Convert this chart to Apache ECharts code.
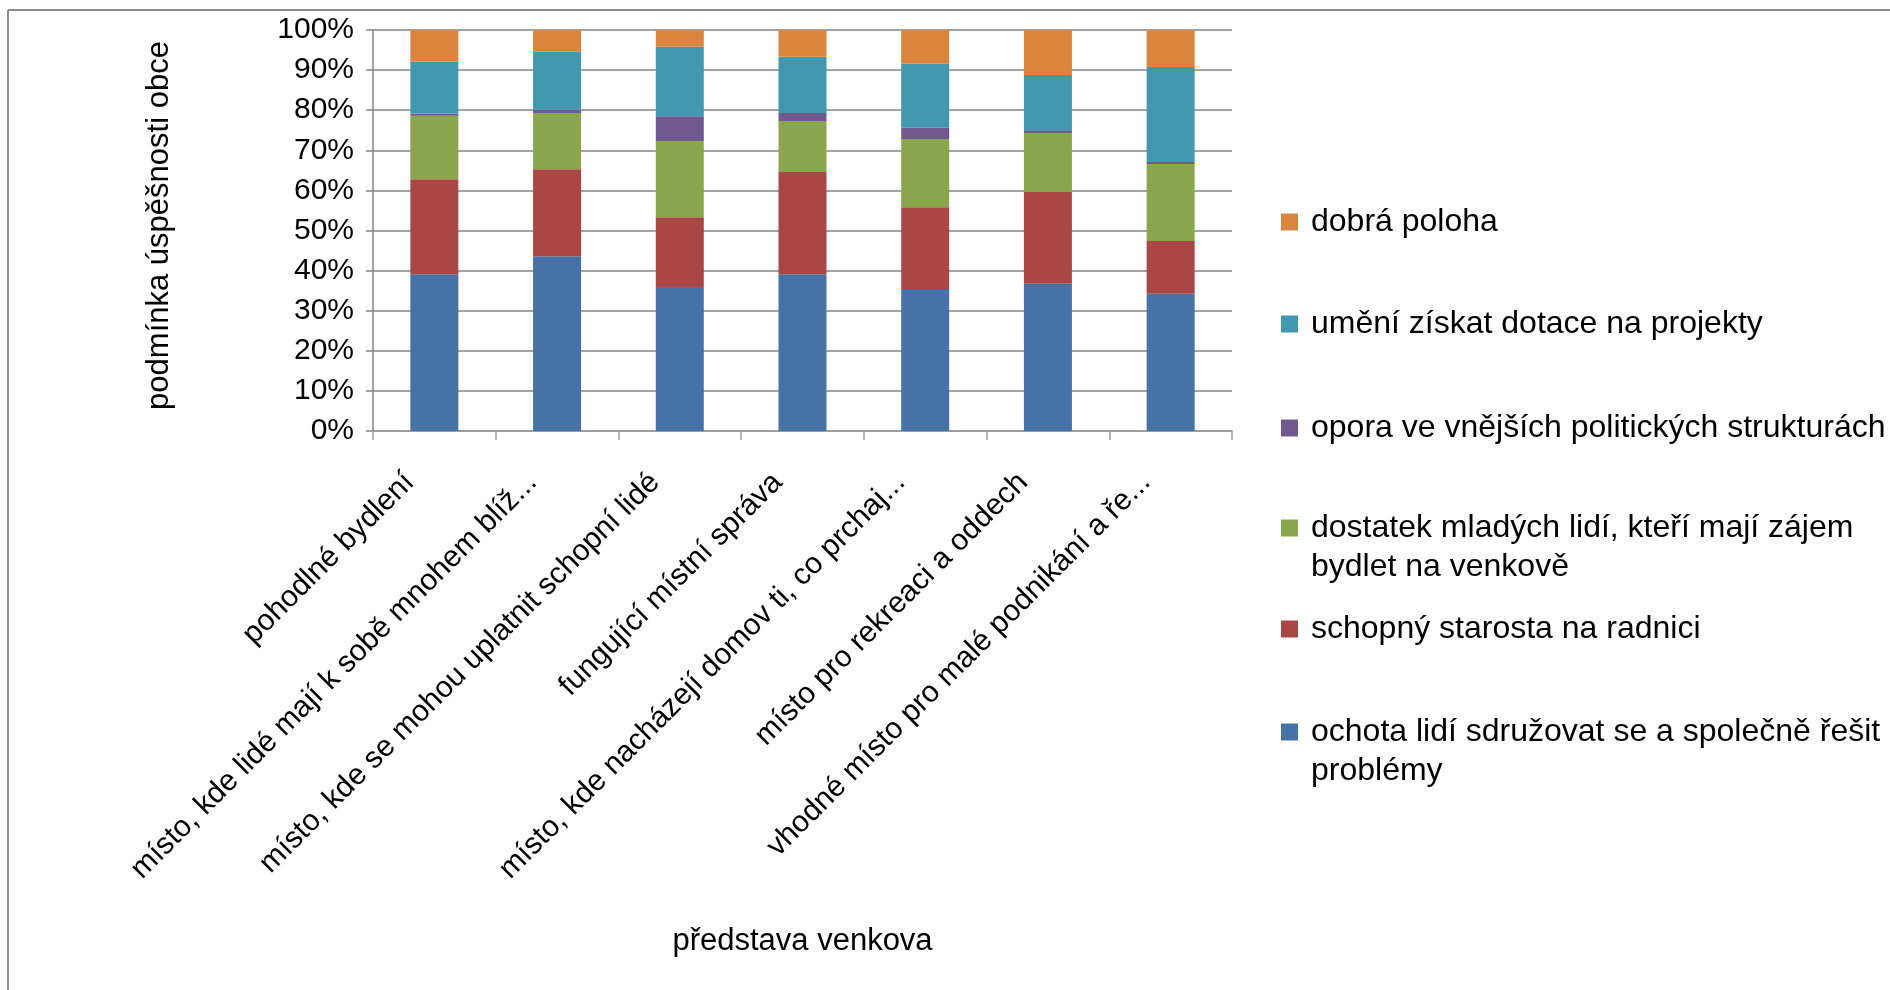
<!DOCTYPE html>
<html>
<head>
<meta charset="utf-8">
<script src="https://cdn.jsdelivr.net/npm/echarts@6/dist/echarts.min.js"></script>
<style>
html,body{margin:0;padding:0;background:#fff;}
#chart{width:1890px;height:990px;}
</style>
</head>
<body>
<div id="chart"></div>
<script>
// Categories (x axis, as shown – truncated like the original)
const categories = [
  'pohodlné bydlení',
  'místo, kde lidé mají k sobě mnohem blíž...',
  'místo, kde se mohou uplatnit schopní lidé',
  'fungující místní správa',
  'místo, kde nacházejí domov ti, co prchaj...',
  'místo pro rekreaci a oddech',
  'vhodné místo pro malé podnikání a ře...'
];
// Series names (bottom to top of stack)
const seriesNames = [
  'ochota lidí sdružovat se a společně řešit problémy',
  'schopný starosta na radnici',
  'dostatek mladých lidí, kteří mají zájem bydlet na venkově',
  'opora ve vnějších politických strukturách',
  'umění získat dotace na projekty',
  'dobrá poloha'
];
// Values in percent, per series
const ochota   = [39.1, 43.6, 35.9, 39.1, 35.4, 36.7, 34.2];
const starosta = [23.7, 21.7, 17.4, 25.5, 20.4, 22.9, 13.2];
const mladi    = [15.8, 14.0, 19.0, 12.7, 17.0, 14.7, 19.2];
const opora    = [0.6, 0.8, 6.2, 2.0, 2.8, 0.5, 0.5];
const dotace   = [12.9, 14.5, 17.3, 14.0, 16.0, 14.0, 23.7];
const poloha   = [7.9, 5.4, 4.2, 6.7, 8.4, 11.2, 9.2];
const seriesValues = [ochota, starosta, mladi, opora, dotace, poloha];
const colors = ['#4672A8', '#AA4644', '#89A54E', '#71588F', '#4198AF', '#DB843D'];
const xTitle = 'představa venkova';
const yTitle = 'podmínka úspěšnosti obce';
// legend labels wrapped as in the original (leading blank line keeps the first line level with the marker)
const legendLabels = {
  'ochota lidí sdružovat se a společně řešit problémy': ' \nochota lidí sdružovat se a společně řešit\nproblémy',
  'dostatek mladých lidí, kteří mají zájem bydlet na venkově': ' \ndostatek mladých lidí, kteří mají zájem\nbydlet na venkově'
};

const FONT = '"Liberation Sans", Arial, sans-serif';
const chart = echarts.init(document.getElementById('chart'), null, {renderer: 'canvas'});

// legend order: top to bottom = reverse of stack
const legendOrder = seriesNames.slice().reverse();
const legendCenters = [222, 324, 428, 528, 629, 732];
const LH = 39;
const legends = legendOrder.map((name, i) => {
  const twoLine = !!legendLabels[name];
  return {
    data: [name],
    left: 1281,
    top: twoLine ? legendCenters[i] - 8.5 - 50 : legendCenters[i] - 8.5 - 11,
    orient: 'vertical',
    icon: 'rect',
    itemWidth: 17,
    itemHeight: 17,
    itemGap: 0,
    padding: 0,
    selectedMode: false,
    formatter: n => legendLabels[n] || n,
    textStyle: {
      fontFamily: FONT,
      fontSize: 32,
      color: '#000',
      lineHeight: LH,
      padding: [0, 0, 0, 8]
    }
  };
});

const option = {
  backgroundColor: '#fff',
  animation: false,
  grid: {left: 373, top: 30, right: 658, bottom: 559, containLabel: false},
  legend: legends,
  xAxis: {
    type: 'category',
    data: categories,
    name: xTitle,
    nameLocation: 'middle',
    nameGap: 495,
    nameTextStyle: {fontFamily: FONT, fontSize: 31, color: '#000'},
    axisLine: {show: true, lineStyle: {color: '#9a9a9a', width: 1.5}},
    axisTick: {show: true, length: 9, lineStyle: {color: '#9a9a9a', width: 1.5}},
    axisLabel: {
      rotate: 45,
      margin: 22,
      padding: [0, 35, 0, 0],
      fontFamily: FONT,
      fontSize: 30,
      color: '#000',
      interval: 0
    }
  },
  yAxis: {
    type: 'value',
    min: 0,
    max: 100,
    interval: 10,
    name: yTitle,
    nameLocation: 'middle',
    nameRotate: 90,
    nameGap: 198,
    nameTextStyle: {fontFamily: FONT, fontSize: 31, color: '#000', padding: [0, 0, 0, 10]},
    axisLine: {show: true, lineStyle: {color: '#868686', width: 1.5}},
    axisTick: {show: true, length: 7, lineStyle: {color: '#868686', width: 1.5}},
    splitLine: {show: true, lineStyle: {color: '#868686', width: 1.5}},
    axisLabel: {
      formatter: '{value}%',
      fontFamily: FONT,
      fontSize: 30,
      color: '#000',
      margin: 19
    }
  },
  series: seriesNames.map((name, i) => ({
    name: name,
    type: 'bar',
    stack: 'total',
    barWidth: 48,
    data: seriesValues[i],
    itemStyle: {color: colors[i]}
  })),
  graphic: [
    {type: 'line', shape: {x1: 8, y1: 10, x2: 1890, y2: 10}, style: {stroke: '#8f8f8f', lineWidth: 2}, silent: true},
    {type: 'line', shape: {x1: 8, y1: 10, x2: 8, y2: 990}, style: {stroke: '#8f8f8f', lineWidth: 2}, silent: true}
  ]
};
chart.setOption(option);
</script>
</body>
</html>
